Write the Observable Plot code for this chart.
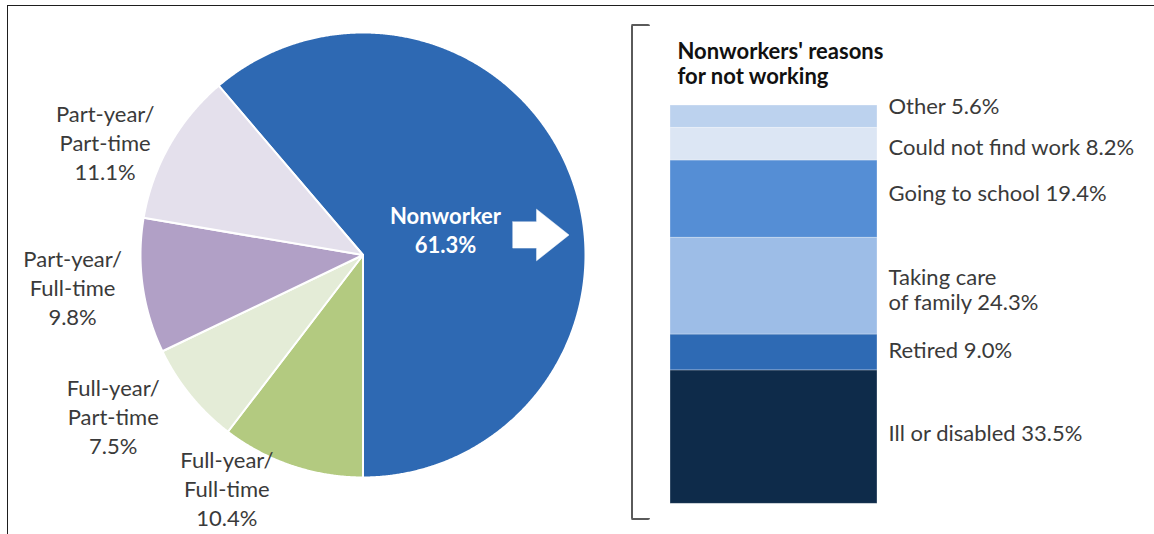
<!DOCTYPE html>
<html>
<head>
<meta charset="utf-8">
<script src="https://cdn.jsdelivr.net/npm/d3@7"></script>
<script src="https://cdn.jsdelivr.net/npm/@observablehq/plot@0.6"></script>
<style>
  html, body { margin: 0; padding: 0; background: #fff; }
  #wrap { position: relative; width: 1154px; height: 534px; overflow: hidden; font-family: Lato, "Open Sans", sans-serif; }
  #frame { position: absolute; left: 7px; top: 5px; width: 1200px; height: 600px; border-top: 1.5px solid #1e1e1e; border-left: 1.5px solid #1e1e1e; pointer-events: none; }
  #bracket { position: absolute; left: 631px; top: 24px; width: 17px; height: 492px; border: 2px solid #5a5a5a; border-right: none; border-radius: 2px; pointer-events: none; }
  #charts { position: absolute; left: 0; top: 0; display: flex; }
  #charts svg { background: transparent; }
</style>
</head>
<body>
<div id="wrap">
  <div id="charts"><div id="pie"></div><div id="bar"></div></div>
  <div id="bracket"></div>
  <div id="frame"></div>
</div>
<script>
// ---------- data ----------
const workNames = ["Nonworker", "Full-year/\nFull-time", "Full-year/\nPart-time", "Part-year/\nFull-time", "Part-year/\nPart-time"];
const workValues = [61.3, 10.4, 7.5, 9.8, 11.1];

const reasonNames = ["Ill or disabled", "Retired", "Taking care\nof family", "Going to school", "Could not find work", "Other"];
const reasonValues = [33.5, 9.0, 24.3, 19.4, 8.2, 5.6];

const chartTitle = "Nonworkers' reasons\nfor not working";

// ---------- styles / layout ----------
const workColors = ["#2e69b3", "#b3ca80", "#e4ecd7", "#b1a0c6", "#e4e0ec"];
const reasonColors = ["#0e2b4a", "#2e6ab4", "#9dbde7", "#558ed5", "#dce6f4", "#bcd2ee"];
const FONT = "Lato, 'Open Sans', sans-serif";

// pie geometry (pixels)
const pieW = 620, H = 534;
const cx = 362.5, cy = 254.5, R = 222.5;
// label nudges in pixels (outer labels), Excel-like placement
const pieNudge = [[-1, 5], [-47, -31], [-34, -15], [-15, -7], [-16, 24]];
const pieLabelRadius = [0.40, 1.25, 1.25, 1.25, 1.25];

const total = d3.sum(workValues);
const start = Math.PI - 2 * Math.PI * workValues[0] / total;
const arcs = d3.pie().sort(null).startAngle(start).endAngle(start + 2 * Math.PI)(workValues);

const slices = arcs.map((a, i) => {
  const pts = [[0, 0]];
  const n = Math.max(4, Math.ceil((a.endAngle - a.startAngle) / 0.005));
  for (let k = 0; k <= n; k++) {
    const t = a.startAngle + (a.endAngle - a.startAngle) * k / n;
    pts.push([Math.sin(t), Math.cos(t)]);
  }
  pts.push([0, 0]);
  return pts.map(p => ({x: p[0], y: p[1], i}));
});

const labels = arcs.map((a, i) => {
  const m = (a.startAngle + a.endAngle) / 2;
  const rr = pieLabelRadius[i];
  return {
    x: rr * Math.sin(m) + pieNudge[i][0] / R,
    y: rr * Math.cos(m) - pieNudge[i][1] / R,
    text: workNames[i] + "\n" + workValues[i].toFixed(1) + "%",
    i
  };
});

// block arrow (annotation glyph) in pie units
const arrow = [[0.673, 0.149], [0.78, 0.149], [0.78, 0.206], [0.926, 0.09], [0.78, -0.026], [0.78, 0.031], [0.673, 0.031], [0.673, 0.149]]
  .map(p => ({x: p[0], y: p[1]}));

const pieMarks = slices.map((pts, i) =>
  Plot.line(pts, {x: "x", y: "y", fill: workColors[i], stroke: "white", strokeWidth: 2, strokeLinejoin: "round"})
);
pieMarks.push(Plot.line(arrow, {x: "x", y: "y", fill: "white", stroke: "white", strokeWidth: 0.5}));
pieMarks.push(Plot.text(labels.filter(d => d.i === 0), {x: "x", y: "y", text: "text", fill: "white", fontWeight: "bold", fontSize: 22, lineHeight: 1.32, fontFamily: FONT}));
pieMarks.push(Plot.text(labels.filter(d => d.i !== 0), {x: "x", y: "y", text: "text", fill: "#3a3a3a", fontSize: 22, lineHeight: 1.32, fontFamily: FONT}));

const pie = Plot.plot({
  width: pieW, height: H,
  margin: 0,
  x: {domain: [-1, 1], range: [cx - R, cx + R], axis: null},
  y: {domain: [-1, 1], range: [cy + R, cy - R], axis: null},
  style: {background: "transparent", overflow: "visible"},
  marks: pieMarks
});
document.getElementById("pie").appendChild(pie);

// ---------- stacked bar ----------
const barW = 1154 - pieW;
const bx0 = 670 - pieW, bx1 = 877 - pieW;
const byBottom = 503.3, byTop = 105;
const reasonNudge = [-4.5, -2.5, 3, -6.5, 3, -11]; // pixels, label vertical placement
const reasonData = reasonNames.map((name, i) => ({name, value: reasonValues[i], i}));
const cum = d3.cumsum(reasonValues);
const pxPerUnit = (byBottom - byTop) / 100;
const reasonLabels = reasonData.map((d, i) => ({
  y: cum[i] - d.value / 2 - reasonNudge[i] / pxPerUnit,
  text: d.name + " " + d.value.toFixed(1) + "%"
}));

const bar = Plot.plot({
  width: barW, height: H,
  margin: 0,
  x: {domain: [0, 1], range: [bx0, bx1], axis: null},
  y: {domain: [0, 100], range: [byBottom, byTop], axis: null},
  color: {domain: reasonNames, range: reasonColors},
  style: {background: "transparent", overflow: "visible"},
  marks: [
    Plot.rectY(reasonData, Plot.stackY({x1: () => 0, x2: () => 1, y: "value", fill: "name", stroke: "white", strokeOpacity: 0.4, strokeWidth: 0.75, inset: 0})),
    Plot.text(reasonLabels, {x: () => 1, y: "y", text: "text", textAnchor: "start", dx: 11, fill: "#3a3a3a", fontSize: 22, lineHeight: 1.16, fontFamily: FONT}),
    Plot.text([chartTitle], {frameAnchor: "top-left", text: d => d, dx: 677 - pieW, dy: 41, lineAnchor: "top", fontWeight: "bold", fontSize: 22, lineHeight: 1.14, fill: "#111", fontFamily: FONT})
  ]
});
document.getElementById("bar").appendChild(bar);
</script>
</body>
</html>
